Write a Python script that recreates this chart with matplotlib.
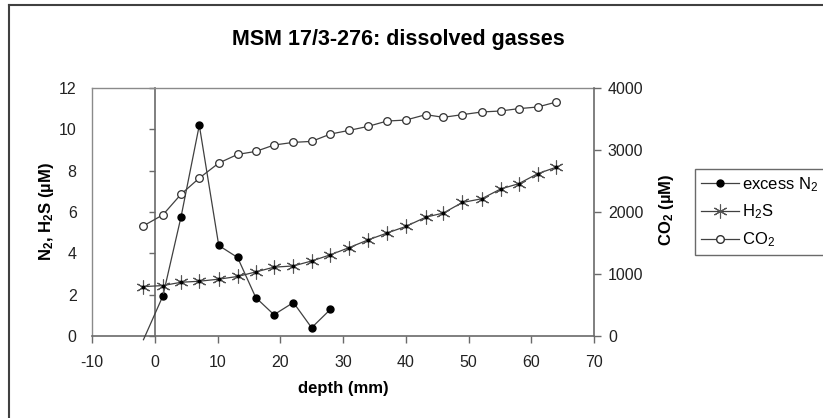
import matplotlib
matplotlib.use("Agg")
import matplotlib.pyplot as plt
from matplotlib.lines import Line2D

plt.rcParams['font.family'] = ['Liberation Sans', 'DejaVu Sans']
plt.rcParams['mathtext.fontset'] = 'custom'
plt.rcParams['mathtext.rm'] = 'Liberation Sans'
plt.rcParams['mathtext.bf'] = 'Liberation Sans:bold'
plt.rcParams['mathtext.default'] = 'regular'
plt.rcParams['axes.unicode_minus'] = False

# depth (mm) of each sample
depth = [-1.8, 1.3, 4.2, 7.1, 10.2, 13.2, 16.1, 19.0, 22.1, 25.0, 28.0, 31.0,
         34.0, 37.0, 40.0, 43.2, 46.0, 49.0, 52.1, 55.1, 58.0, 61.0, 64.0]

# excess N2 (uM), only first 11 depths
n2 = [-0.18, 1.94, 5.78, 10.2, 4.38, 3.80, 1.86, 1.03, 1.62, 0.40, 1.29]

# H2S (uM)
h2s = [2.39, 2.44, 2.60, 2.65, 2.75, 2.88, 3.10, 3.33, 3.39, 3.63, 3.93, 4.28,
       4.65, 4.98, 5.30, 5.75, 5.95, 6.46, 6.64, 7.11, 7.37, 7.85, 8.17]

# CO2 (uM), right axis
co2 = [1777, 1954, 2288, 2547, 2789, 2929, 2977, 3080, 3123, 3139, 3257, 3317,
       3381, 3467, 3483, 3570, 3527, 3570, 3613, 3629, 3667, 3693, 3774]

W, H = 823, 418
fig = plt.figure(figsize=(W / 100, H / 100), dpi=100)
ax = fig.add_axes([92 / W, (H - 336) / H, (594 - 92) / W, (336 - 88) / H])
ax2 = ax.twinx()

linec = '#404040'
axc = '#6a6a6a'
tsize = 11.5

# N2 and H2S on left axis
ax.plot(depth[:len(n2)], n2, color=linec, lw=0.9, marker='o', ms=5,
        mfc='black', mec='black', markevery=list(range(1, len(n2))),
        clip_on=False, zorder=3)
ax.plot(depth, h2s, color=linec, lw=0.9, marker=(6, 2, 0), ms=10,
        mec='#555555', mew=0.8, zorder=3)
ax.plot(depth, h2s, ls='none', marker='o', ms=2, mfc='black', mec='black', zorder=4)

# CO2 on right axis
ax2.plot(depth, co2, color=linec, lw=0.9, marker='o', ms=5.5,
         mfc='white', mec='#303030', mew=0.9, zorder=3)

ax.set_xlim(-10, 70)
ax.set_ylim(0, 12)
ax2.set_ylim(0, 4000)
ax.set_xticks(range(-10, 71, 10))
ax.set_yticks(range(0, 13, 2))
ax2.set_yticks(range(0, 4001, 1000))

for s in ['left', 'top']:
    ax.spines[s].set_color('#8a8a8a')
    ax.spines[s].set_linewidth(1.0)
ax.spines['right'].set_visible(False)
ax.spines['bottom'].set_color(axc)
ax.spines['bottom'].set_linewidth(1.2)
for s in ['left', 'top', 'bottom']:
    ax2.spines[s].set_visible(False)
ax2.spines['right'].set_color(axc)
ax2.spines['right'].set_linewidth(1.2)

ax.tick_params(axis='y', length=0, pad=11, labelsize=tsize, colors='#222222')
ax.tick_params(axis='x', length=5, width=1, color=axc, pad=9, labelsize=tsize,
               labelcolor='#222222')
ax2.tick_params(axis='y', length=5, width=1, color=axc, pad=5, labelsize=tsize,
                labelcolor='#222222')

# y axis crossing at depth 0
sec = ax.secondary_yaxis(10 / 80)
sec.set_yticks(range(0, 13, 2))
sec.set_yticklabels([])
sec.tick_params(length=4, width=1, color=axc)
sec.spines['left'].set_color(axc)
sec.spines['left'].set_linewidth(1.2)

fig.text(398 / W, 1 - 40 / H, 'MSM 17/3-276: dissolved gasses', ha='center',
         va='center', fontsize=15.5, fontweight='bold')
fig.text(343 / W, 1 - 389 / H, 'depth (mm)', ha='center', va='center',
         fontsize=12, fontweight='bold')
fig.text(46 / W, 1 - 212 / H, r'N$_2$, H$_2$S (µM)', ha='center', va='center',
         rotation=90, fontsize=12, fontweight='bold')
fig.text(667 / W, 1 - 210 / H, r'CO$_2$ (µM)', ha='center', va='center',
         rotation=90, fontsize=12, fontweight='bold')

handles = [
    Line2D([], [], color=linec, lw=0.9, marker='o', ms=5, mfc='black', mec='black'),
    Line2D([], [], color=linec, lw=0.9, marker=(6, 2, 0), ms=10, mec='#555555', mew=0.8),
    Line2D([], [], color=linec, lw=0.9, marker='o', ms=5.5, mfc='white', mec='#303030'),
]
labels = [r'excess N$_2$', r'H$_2$S', r'CO$_2$']
leg = fig.legend(handles, labels, loc='upper left', bbox_to_anchor=(695 / W, 1 - 169 / H),
                 fancybox=False, edgecolor='#6a6a6a', fontsize=12, handlelength=2.3,
                 handletextpad=0.15, borderpad=0.35, labelspacing=0.55, framealpha=1,
                 borderaxespad=0)
leg.get_frame().set_linewidth(1.0)

# outer chart border (left and top only visible)
fig.add_artist(Line2D([9 / W, 9 / W], [0, 1 - 5 / H], transform=fig.transFigure,
                      color='#404040', lw=1.5))
fig.add_artist(Line2D([9 / W, 1], [1 - 5 / H, 1 - 5 / H], transform=fig.transFigure,
                      color='#404040', lw=1.5))

fig.savefig('out.png', dpi=100)
